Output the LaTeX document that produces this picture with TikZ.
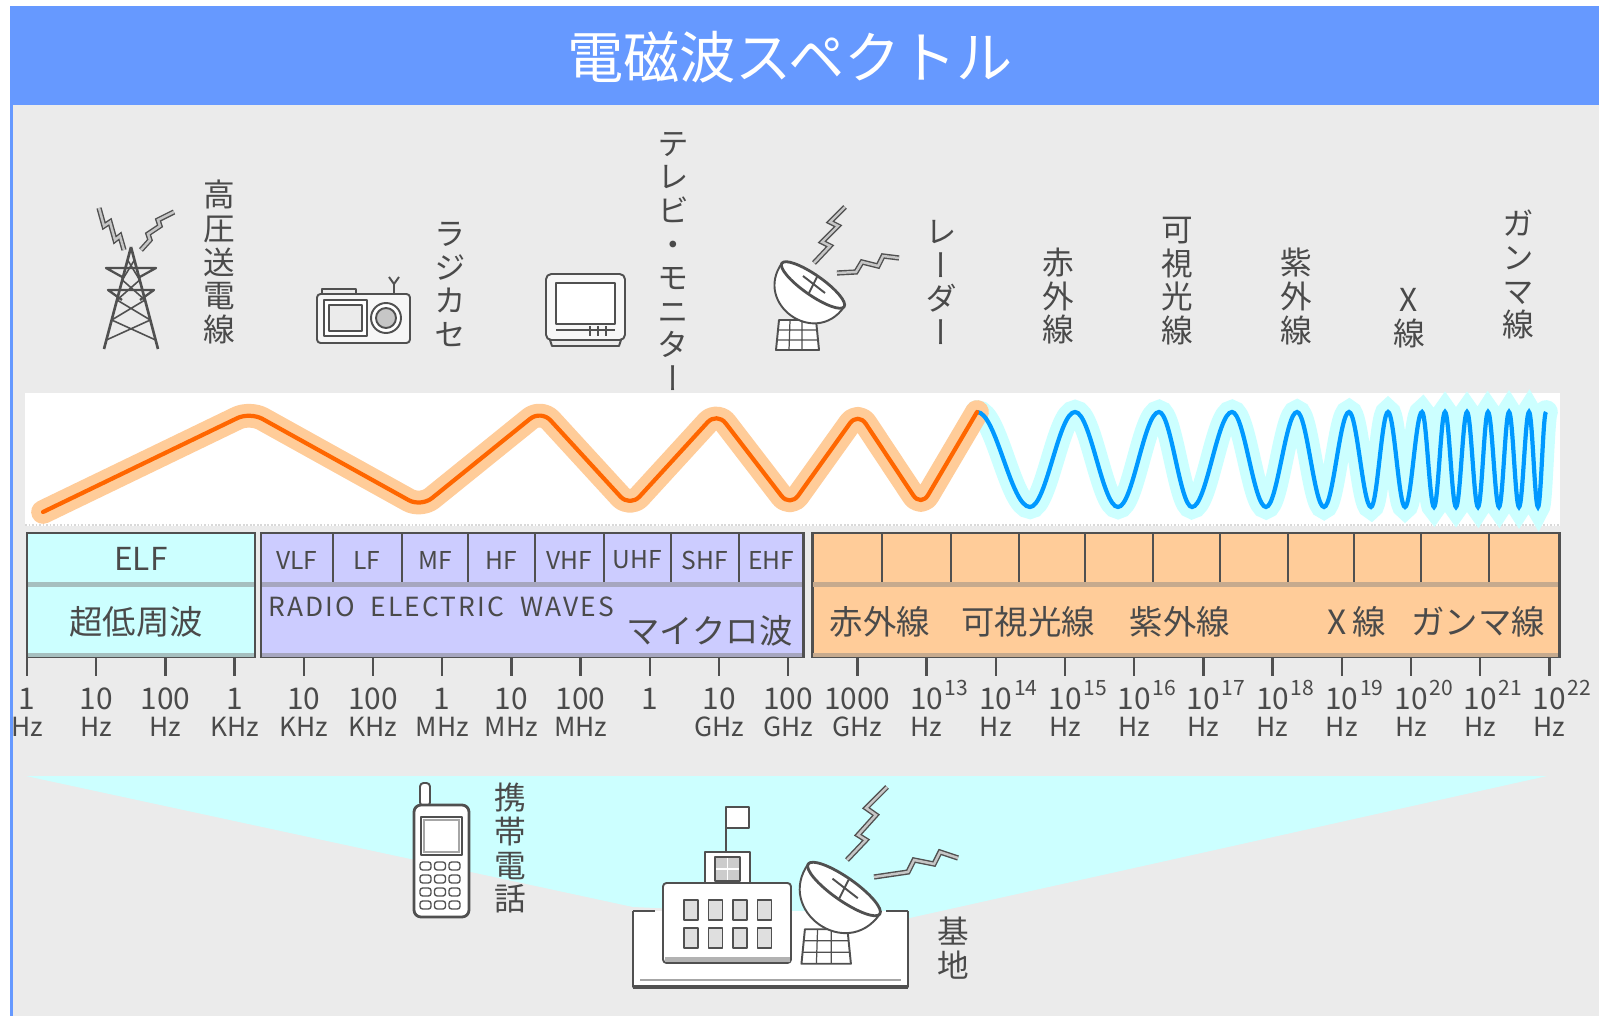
\documentclass[tikz,border=0pt]{standalone}
\usepackage{fontspec}
\setmainfont{Noto Sans CJK JP}
\newfontfamily\tatefont[RawFeature=+vert]{Noto Sans CJK JP}
\usetikzlibrary{positioning}
\definecolor{HeadBlue}{HTML}{6699FF}
\definecolor{PanelGrey}{HTML}{EBEBEB}
\definecolor{ElfCyan}{HTML}{CCFFFF}
\definecolor{RadioLilac}{HTML}{CCCCFF}
\definecolor{OpticPeach}{HTML}{FFCC99}
\definecolor{WaveOrange}{HTML}{FF6600}
\definecolor{WaveBlue}{HTML}{0099FF}
\definecolor{InkGrey}{HTML}{4A4A4A}
\definecolor{LineGrey}{HTML}{505050}
\newcommand{\tickx}[1]{27+69.2*#1}

\tikzset{
  icon/.style={draw=LineGrey, line width=1.1pt, line join=round},
  bolt/.style={draw=LineGrey, line width=0.8pt, double=gray!45, double distance=1.4pt, line join=miter},
  vlabel/.style={font=\tatefont\fontsize{18}{19.1}\selectfont, text=InkGrey,
    align=center, inner sep=0pt, anchor=north},
  boxline/.style={draw=LineGrey, line width=1.7pt},
  bandlab/.style={font=\fontsize{18}{18}\selectfont, text=InkGrey, inner sep=0pt},
  bandjp/.style={font=\fontsize{19}{19}\selectfont, text=InkGrey, inner sep=0pt},
  celllab/.style={font=\fontsize{14}{14}\selectfont, text=InkGrey, inner sep=0pt},
  numlab/.style={font=\fontsize{17}{17}\selectfont, text=InkGrey, inner sep=0pt},
  unitlab/.style={font=\fontsize{15}{15}\selectfont, text=InkGrey, inner sep=0pt},
  explab/.style={font=\fontsize{12}{12}\selectfont, text=InkGrey, inner sep=0pt},
  tickmark/.style={LineGrey, line width=1.3pt},
  pics/dish/.style={code={
    % lattice stand
    \draw[icon, fill=white] (-34,35) -- (-37,65) -- (6,65) -- (3,35) -- cycle;
    \draw[icon, line width=0.7pt] (-23,35) -- (-24,65) (-11,35) -- (-11,65)
      (-35,45) -- (4,45) (-36,55) -- (5,55);
    % bowl and rim
    \draw[icon, fill=white] (-31,-22) .. controls (-60,19) and (2,63) .. (31,22) -- cycle;
    \draw[icon, fill=white, line width=1.6pt, rotate=-35] (0,0) ellipse [x radius=38, y radius=10];
    \draw[icon] (-10,-9) -- (12,8) (-4,8) -- (4,-8);
  }}
}

\begin{document}
\begin{tikzpicture}[x=0.02cm, y=-0.02cm]
\useasboundingbox (0,0) rectangle (1599,1016);
\fill[white] (0,0) rectangle (1599,1016);

% frame
\fill[HeadBlue] (10,6) rectangle (1599,105);
\fill[PanelGrey] (13,105) rectangle (1599,1016);
\fill[HeadBlue] (10,105) rectangle (13,1016);
\node[font=\fontsize{32}{32}\selectfont, text=white, inner sep=0pt] (title) at (790,57) {電磁波スペクトル};

% power line tower
\draw[bolt] (99,208) -- (104,226) -- (110,222) -- (115,240) -- (120,236) -- (124,250);
\draw[bolt] (174,212) -- (158,220) -- (160,226) -- (148,234) -- (150,240) -- (141,250);
\draw[icon, line width=1.5pt] (131,247) -- (104,349) (131,247) -- (158,349);
\draw[icon, line width=1.3pt] (124,278) -- (106,268) -- (156,268) -- (138,278)
  (122,300) -- (108,290) -- (154,290) -- (140,300);
\draw[icon, line width=0.9pt] (127.6,260) -- (139.7,280) -- (117,300) -- (150.3,320) -- (106.4,340)
  (134.4,260) -- (122.3,280) -- (145,300) -- (111.7,320) -- (155.6,340);
\node[vlabel] (tower) at (219,180) {高\\圧\\送\\電\\線};

% radio cassette
\draw[icon] (322,294) -- (322,289) -- (356,289) -- (356,294);
\draw[icon] (394,294) -- (394,284) (389,277) -- (394,284) -- (399,277);
\draw[icon, fill=white!55!PanelGrey, rounded corners=2pt] (317,294) rectangle (410,343);
\draw[icon, fill=white] (324,300) rectangle (367,336);
\draw[icon, fill=PanelGrey] (329,305) rectangle (362,331);
\draw[icon, fill=white] (386,318) circle (15);
\draw[icon, fill=gray!45] (386,318) circle (10);
\node[vlabel] (radio) at (450,222) {ラ\\ジ\\カ\\セ};

% television
\draw[icon, fill=white!60!PanelGrey, rounded corners=3pt] (546,274) rectangle (625,340);
\draw[icon, fill=white] (556,283) rectangle (615,324);
\draw[icon, line width=0.7pt] (556,330) -- (615,330);
\draw[icon, line width=0.7pt] (590,326) -- (590,336) (598,326) -- (598,336) (606,326) -- (606,336);
\draw[icon] (550,340) -- (552,346) -- (619,346) -- (621,340);
\node[vlabel] (tv) at (673,132) {テ\\レ\\ビ\\・\\モ\\ニ\\タ\\ー};

% radar
\pic at (813,285) {dish};
\draw[bolt] (845,207) -- (830,222) -- (838,226) -- (822,242) -- (830,246) -- (814,263);
\draw[bolt] (899,258) -- (883,256) -- (878,266) -- (862,262) -- (856,272) -- (837,273);
\node[vlabel] (radar) at (941,220) {レ\\ー\\ダ\\ー};

% light and rays
\node[vlabel] (ir) at (1058,248) {赤\\外\\線};
\node[vlabel] (vis) at (1177,217) {可\\視\\光\\線};
\node[vlabel] (uv) at (1296,248) {紫\\外\\線};
\node[vlabel] (xray) at (1409,288) {X\\線};
\node[vlabel] (gamma) at (1518,210) {ガ\\ン\\マ\\線};

% wave strip
\fill[white] (25,393) rectangle (1560,526);
\draw[gray!30, densely dotted, line width=1pt] (25,525) -- (1560,525);
\draw[ElfCyan, line width=13.5pt, line cap=round] (977,412)
  \foreach \b [remember=\b as \p (initially 977), count=\k] in
  {1030,1075,1118,1159,1192,1232,1266,1297,1324,1349,1371,1388,1405,1422,1434,1445,1456,1467,1478,1488,1499,1509,1519,1529,1538,1546}
  { cos ({(\p+\b)/2},459.5) sin (\b,{459.5-47.5*cos(180*\k)}) };
\draw[OpticPeach, line width=13.5pt, line cap=round, line join=round, rounded corners=8pt]
  (43,512) -- (250,412) -- (421,507) -- (541,410) -- (630,507) -- (717,412)
  -- (790,507) -- (858,412) -- (921,507) -- (977,412);
\draw[WaveBlue, line width=2.4pt] (977,412)
  \foreach \b [remember=\b as \p (initially 977), count=\k] in
  {1030,1075,1118,1159,1192,1232,1266,1297,1324,1349,1371,1388,1405,1422,1434,1445,1456,1467,1478,1488,1499,1509,1519,1529,1538,1546}
  { cos ({(\p+\b)/2},459.5) sin (\b,{459.5-47.5*cos(180*\k)}) };
\draw[WaveOrange, line width=2.4pt, line cap=round, line join=round, rounded corners=8pt]
  (43,512) -- (250,412) -- (421,507) -- (541,410) -- (630,507) -- (717,412)
  -- (790,507) -- (858,412) -- (921,507) -- (977,412);

% ELF band
\draw[boxline, fill=ElfCyan] (27,533) rectangle (255,657);
\draw[ElfCyan!50!gray, line width=2.8pt] (28,584.5) -- (254,584.5) (28,655) -- (254,655);
\node[bandlab] (elf) at (141,559) {ELF};
\node[bandjp] (elfjp) at (136,622) {超低周波};

% radio band
\draw[boxline, fill=RadioLilac] (261,533) rectangle (803,657);
\foreach \x in {333,402,468,535,604,671,739}
  \draw[LineGrey, line width=1.1pt] (\x,533) -- (\x,584);
\draw[RadioLilac!50!gray, line width=2.8pt] (262,584.5) -- (802,584.5) (262,655) -- (802,655);
\foreach \x/\t in {297/VLF,367/LF,435/MF,501/HF,569/VHF,637/UHF,705/SHF,771/EHF}
  \node[celllab] (\t) at (\x,560) {\t};
\node[celllab, anchor=west, font=\fontsize{15}{15}\selectfont\addfontfeature{LetterSpace=8}]
  (radiowaves) at (268,607) {RADIO\ \ ELECTRIC\ \ WAVES};
\node[bandjp, anchor=east] (micro) at (793,631) {マイクロ波};

% optical band
\draw[boxline, fill=OpticPeach] (812,533) rectangle (1559,657);
\foreach \x in {882,951,1019,1085,1153,1220,1288,1354,1421,1489}
  \draw[LineGrey, line width=1.1pt] (\x,533) -- (\x,584);
\draw[OpticPeach!55!gray, line width=2.8pt] (813,584.5) -- (1558,584.5) (813,655) -- (1558,655);
\foreach \x/\t [count=\i] in {880/赤外線,1028/可視光線,1180/紫外線,1357/X\,線,1478/ガンマ線}
  \node[bandjp] (optic\i) at (\x,622) {\t};

% frequency axis
\foreach \i in {0,...,22}
  \draw[tickmark] ({\tickx{\i}},657) -- ++(0,19);
\foreach \v [count=\i from 0] in {1,10,100,1,10,100,1,10,100,1,10,100,1000}
  \node[numlab] (f\i) at ({\tickx{\i}},699) {\v};
\foreach \i/\u in {0/Hz,1/Hz,2/Hz,3/KHz,4/KHz,5/KHz,6/MHz,7/MHz,8/MHz,10/GHz,11/GHz,12/GHz}
  \node[unitlab] (u\i) at ({\tickx{\i}},727) {\u};
\foreach \e in {13,...,22} {
  \node[numlab] (f\e) at ({\tickx{\e}},699) {10};
  \node[explab, anchor=south west] (x\e) at ({\tickx{\e}+18},696) {\e};
  \node[unitlab] (u\e) at ({\tickx{\e}},727) {Hz};
}

% coverage fan of the base station
\fill[ElfCyan] (26,776) -- (1547,776) -- (905,919) -- (633,907) -- cycle;

% mobile phone
\draw[icon, fill=white, rounded corners=2pt] (420,783) rectangle (430,806);
\draw[icon, fill=white, rounded corners=4pt, line width=1.6pt] (414,805) rectangle (469,917);
\draw[icon, fill=white, line width=1.6pt] (421,817) rectangle (462,855);
\draw[gray!70, line width=1.2pt] (424,820) rectangle (459,852);
\foreach \r in {0,...,3}
  \foreach \c in {0,1,2}
    \draw[icon, line width=0.8pt, rounded corners=1.5pt] ({420+\c*14.5},{862+\r*13}) rectangle ++(11,8);
\node[vlabel] (phone) at (510,783) {携\\帯\\電\\話};

% base station
\draw[icon, fill=white, line width=1.5pt] (633,911) -- (633,987) -- (908,987) -- (908,911);
\draw[icon, line width=1.5pt] (633,911) -- (655,911) (886,911) -- (908,911);
\draw[gray!70, line width=1.4pt] (640,980) -- (901,980);
\draw[LineGrey, line width=1.9pt] (633,987) -- (908,987);
\draw[icon] (726,828) -- (726,852);
\draw[icon, fill=white] (726,807) rectangle (749,828);
\draw[icon, fill=white] (705,852) rectangle (750,883);
\draw[icon, fill=gray!40] (715,857) rectangle (740,881);
\draw[icon, draw=white, line width=0.8pt] (727.5,858) -- (727.5,880) (716,869) -- (739,869);
\draw[icon, fill=white, rounded corners=2pt] (663,883) rectangle (791,963);
\fill[gray!60] (664.5,957) rectangle (789.5,962);
\foreach \c in {0,...,3}
  \foreach \r in {0,1}
    \draw[icon, fill=gray!25] ({684+\c*24.5},{900+\r*28}) rectangle ++(14,20);
\pic[scale=1.15] at (844,889) {dish};
\draw[bolt] (887,787) -- (866,808) -- (876,815) -- (858,835) -- (866,840) -- (847,860);
\draw[bolt] (958,858) -- (940,852) -- (934,864) -- (914,860) -- (908,872) -- (874,877);
\node[vlabel] (base) at (953,917) {基\\地};
\end{tikzpicture}
\end{document}
